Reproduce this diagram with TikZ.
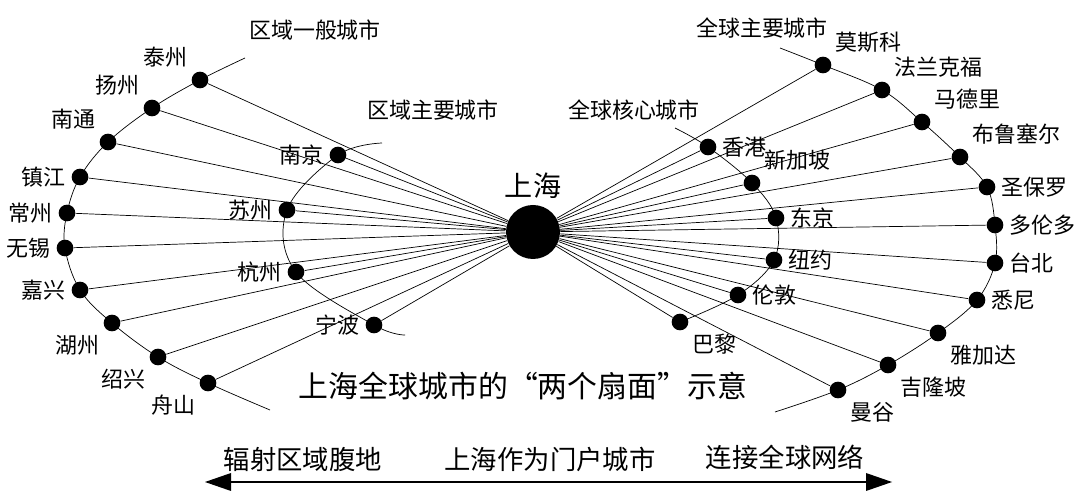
\documentclass[tikz,border=0pt]{standalone}
\usepackage{fontspec}
\setmainfont{Noto Sans CJK SC}
\usetikzlibrary{arrows,positioning,calc}

\begin{document}
\begin{tikzpicture}[x=0.02cm,y=-0.02cm,>=stealth',
font=\fontsize{12.5}{14}\selectfont,
city/.style={circle,fill=black,inner sep=0pt,minimum size=9.5pt},
hub/.style={circle,fill=black,inner sep=0pt,minimum size=54*0.02cm},]
\useasboundingbox (0,0) rectangle (1080,493);

\node[hub] (sh) at (533,232) {};
\node[above=0pt of sh] {\fontsize{16}{18}\selectfont 上海};

% left fan, outer arc
\foreach \x/\y/\t [count=\i] in {200/80/泰州,152/108/扬州,108/142/南通,80/177/镇江,67/213/常州,
  65/248/无锡,80/290/嘉兴,112/323/湖州,158/357/绍兴,208/383/舟山}{
  \node[city] (lo\i) at (\x,\y) {};
  \draw (sh) -- (lo\i);
}
\draw plot[smooth,tension=.6] coordinates {(245,58) (lo1) (lo2) (lo3) (lo4) (lo5) (lo6) (lo7) (lo8) (lo9) (lo10) (270,410)};
\foreach \i/\p/\t in {1/above left/泰州,2/above left/扬州,3/above left/南通,4/left/镇江,5/left/常州,
  6/left/无锡,7/left/嘉兴,8/below left/湖州,9/below left/绍兴,10/below left/舟山}
  \node[\p=0pt of lo\i] {\t};
\node at (315,30) {区域一般城市};

% left fan, inner arc
\foreach \x/\y/\t [count=\i] in {338/155/南京,287/210/苏州,296/272/杭州,374/325/宁波}{
  \node[city] (li\i) at (\x,\y) {};
  \draw (sh) -- (li\i);
  \node[left=0pt of li\i] {\t};
}
\draw plot[smooth,tension=.6] coordinates {(382,143) (li1) (li2) (li3) (li4) (405,335)};
\node at (433,110) {区域主要城市};

% right fan, inner arc
\foreach \x/\y/\t [count=\i] in {708/147/香港,752/183/新加坡,776/218/东京,774/260/纽约,738/295/伦敦,680/322/巴黎}{
  \node[city] (ri\i) at (\x,\y) {};
  \draw (sh) -- (ri\i);
}
\draw plot[smooth,tension=.6] coordinates {(675,128) (ri1) (ri2) (ri3) (ri4) (ri5) (ri6)};
\foreach \i/\p/\t in {1/right/香港,2/above right/新加坡,3/right/东京,4/right/纽约,5/right/伦敦,6/below right/巴黎}
  \node[\p=0pt of ri\i] {\t};
\node at (634,110) {全球核心城市};

% right fan, outer arc
\foreach \x/\y/\t [count=\i] in {823/65/莫斯科,882/90/法兰克福,922/122/马德里,960/157/布鲁塞尔,987/187/圣保罗,
  995/225/多伦多,995/263/台北,977/300/悉尼,938/333/雅加达,888/365/吉隆坡,838/390/曼谷}{
  \node[city] (ro\i) at (\x,\y) {};
  \draw (sh) -- (ro\i);
}
\draw plot[smooth,tension=.6] coordinates {(780,48) (ro1) (ro2) (ro3) (ro4) (ro5) (ro6) (ro7) (ro8) (ro9) (ro10) (ro11) (775,412)};
\foreach \i/\p/\t in {1/above right/莫斯科,2/above right/法兰克福,3/above right/马德里,4/above right/布鲁塞尔,
  5/right/圣保罗,6/right/多伦多,7/right/台北,8/right/悉尼,9/below right/雅加达,10/below right/吉隆坡,11/below right/曼谷}
  \node[\p=0pt of ro\i] {\t};
\node at (762,28) {全球主要城市};

\node (title) at (523,386) {\fontsize{17}{19}\selectfont 上海全球城市的“两个扇面”示意};

\coordinate (al) at (205,482);
\coordinate (ar) at (892,482);
\draw[-,line width=1.6pt] ([xshift=12pt]al) -- ([xshift=-12pt]ar);
\fill (al) -- ++(26,-9) -- ++(0,18) -- cycle;
\fill (ar) -- ++(-26,-9) -- ++(0,18) -- cycle;
\node at (303,459) {\fontsize{15}{17}\selectfont 辐射区域腹地};
\node at (550,459) {\fontsize{15}{17}\selectfont 上海作为门户城市};
\node at (785,457) {\fontsize{15}{17}\selectfont 连接全球网络};
\end{tikzpicture}
\end{document}
